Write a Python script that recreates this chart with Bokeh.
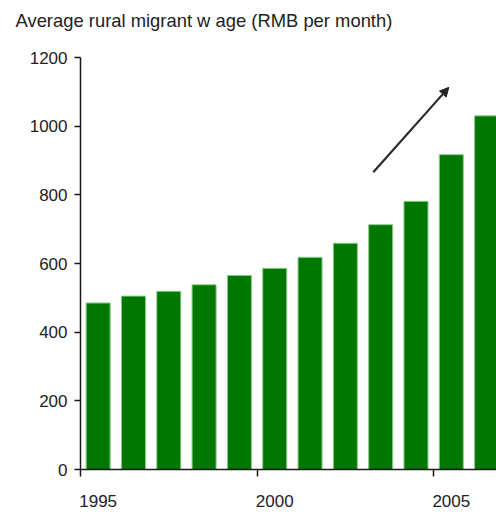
from bokeh.plotting import figure
from bokeh.models import Range1d, FixedTicker, Arrow, NormalHead
from bokeh.embed import file_html
from bokeh.resources import INLINE

# Data
years = [1995, 1996, 1997, 1998, 1999, 2000, 2001, 2002, 2003, 2004, 2005, 2006]
wages = [485, 505, 519, 538, 565, 586, 618, 659, 713, 781, 917, 1030]
y_ticks = [0, 200, 400, 600, 800, 1000, 1200]
x_label_years = [1995, 2000, 2005]
title_text = "Average rural migrant w age (RMB per month)"

# arrow annotation (data coordinates: category index units, RMB)
arrow_start = (8.29, 866)
arrow_end = (10.43, 1113)

positions = [i + 0.5 for i in range(len(years))]

p = figure(width=496, height=512, output_backend="svg", toolbar_location=None,
           x_range=Range1d(0, 11.78), y_range=Range1d(0, 1200),
           min_border_left=80, min_border_right=0, min_border_top=57,
           min_border_bottom=43)

p.vbar(x=positions, top=wages, width=0.68, fill_color="#007800",
       line_color="#8cc98c", line_width=1)

p.add_layout(Arrow(end=NormalHead(size=9, fill_color="#222222", line_color="#222222"),
                   x_start=arrow_start[0], y_start=arrow_start[1],
                   x_end=arrow_end[0], y_end=arrow_end[1],
                   line_width=2.2, line_color="#2a2a2a"))

# second (blank) line lifts the title line towards the top of the page
p.title.text = title_text + "\n\u00a0"
p.title.align = "left"
p.title.vertical_align = "bottom"
p.title.offset = -65
p.title.text_font = "Liberation Sans"
p.title.text_font_size = "18.4px"
p.title.text_font_style = "normal"
p.title.text_color = "#222222"
p.title.standoff = 12

p.grid.visible = False
p.outline_line_color = None

tick_font = "Liberation Sans"

ya = p.yaxis[0]
ya.ticker = FixedTicker(ticks=y_ticks)
ya.major_tick_out = 6
ya.major_tick_in = 0
ya.minor_tick_out = 0
ya.minor_tick_in = 0
ya.axis_line_color = "#1a1a1a"
ya.axis_line_width = 1.5
ya.major_tick_line_color = "#1a1a1a"
ya.major_tick_line_width = 1.5
ya.major_label_text_font = tick_font
ya.major_label_text_font_size = "17px"
ya.major_label_text_color = "#222222"
ya.major_label_standoff = 7

xa = p.xaxis[0]
label_pos = [positions[years.index(y)] for y in x_label_years]
xa.ticker = FixedTicker(ticks=label_pos, minor_ticks=[pp - 0.5 for pp in label_pos])
xa.major_label_overrides = {pp: str(y) for pp, y in zip(label_pos, x_label_years)}
xa.major_tick_out = 0
xa.major_tick_in = 0
xa.minor_tick_out = 7
xa.minor_tick_in = 0
xa.minor_tick_line_color = "#1a1a1a"
xa.minor_tick_line_width = 1.5
xa.axis_line_color = "#1a1a1a"
xa.axis_line_width = 1.5
xa.major_label_text_font = tick_font
xa.major_label_text_font_size = "17px"
xa.major_label_text_color = "#222222"
xa.major_label_standoff = 18

open("out.html", "w").write(file_html(p, INLINE))
